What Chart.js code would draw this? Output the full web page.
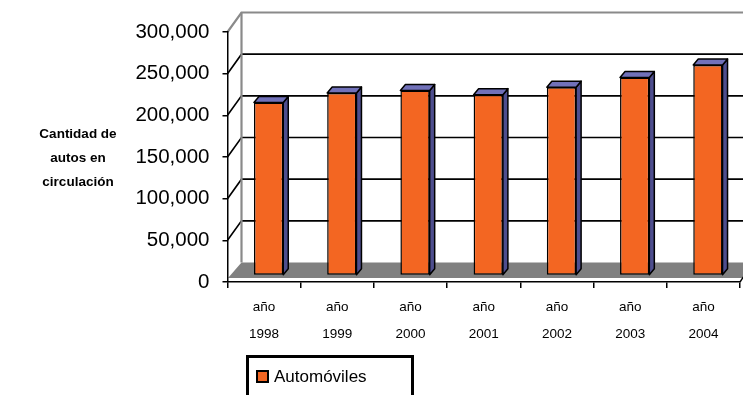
<!DOCTYPE html>
<html>
<head>
<meta charset="utf-8">
<script src="https://cdn.jsdelivr.net/npm/chart.js@4/dist/chart.umd.min.js"></script>
<style>
  html, body { margin: 0; padding: 0; background: #fff; }
  #wrap { width: 743px; height: 395px; position: relative; }
</style>
</head>
<body>
<div id="wrap"><canvas id="c" width="743" height="395"></canvas></div>
<script>
// Autos en circulación por año
const years = ['1998', '1999', '2000', '2001', '2002', '2003', '2004'];
const categories = years.map(y => ['año', y]);
const autos = [207500, 219000, 222000, 217000, 226000, 237500, 252500];
const seriesName = 'Automóviles';
const axisTitle = ['Cantidad de', 'autos en', 'circulación'];
const yMax = 300000;
const yStep = 50000;

const FONT = '"Liberation Sans", Arial, Helvetica, sans-serif';
const ORANGE = '#F36622';
const TOP_FACE = '#7171B9';
const SIDE_FACE = '#4E4E8E';

// depth of the walls, shift of the bar row into the box, depth of each bar
const WALL = { dx: 14, dy: -19.5 };
const ROW = { dx: 4.5, dy: -6.5 };
const BAR = { dx: 5, dy: -6 };

const box3d = {
  id: 'box3d',
  beforeDraw(chart) {
    const { ctx, chartArea: a, scales: { y } } = chart;
    const W = chart.width;
    const y0 = y.getPixelForValue(0);
    ctx.save();
    // floor
    ctx.fillStyle = '#808080';
    ctx.beginPath();
    ctx.moveTo(a.left + 0.5, y0 - 4);
    ctx.lineTo(a.left + WALL.dx, y0 + WALL.dy);
    ctx.lineTo(W + 30, y0 + WALL.dy);
    ctx.lineTo(W + 30, y0 - 4);
    ctx.closePath();
    ctx.fill();
    // gridlines on the side and back walls
    for (let v = yStep; v <= yMax; v += yStep) {
      const yf = y.getPixelForValue(v);
      const top = v === yMax;
      ctx.strokeStyle = top ? '#8a8a8a' : '#000';
      ctx.lineWidth = top ? 2.2 : 1.6;
      ctx.beginPath();
      ctx.moveTo(a.left, yf);
      ctx.lineTo(a.left + WALL.dx, yf + WALL.dy);
      ctx.lineTo(W + 5, yf + WALL.dy);
      ctx.stroke();
    }
    // back wall left edge
    ctx.strokeStyle = '#8a8a8a';
    ctx.lineWidth = 2.2;
    ctx.beginPath();
    ctx.moveTo(a.left + WALL.dx, y.getPixelForValue(yMax) + WALL.dy);
    ctx.lineTo(a.left + WALL.dx, y0 + WALL.dy);
    ctx.stroke();
    ctx.restore();
  },
  beforeDatasetsDraw(chart) {
    chart.ctx.save();
    chart.ctx.translate(ROW.dx, ROW.dy);
  },
  afterDatasetsDraw(chart) {
    const ctx = chart.ctx;
    ctx.restore();
    const meta = chart.getDatasetMeta(0);
    ctx.save();
    ctx.lineWidth = 1.5;
    ctx.lineJoin = 'round';
    ctx.strokeStyle = '#000';
    meta.data.forEach(el => {
      const { x, y, base, width } = el.getProps(['x', 'y', 'base', 'width'], true);
      const l = x - width / 2 + ROW.dx, r = x + width / 2 + ROW.dx;
      const t = y + ROW.dy, b = base + ROW.dy;
      // side face
      ctx.fillStyle = SIDE_FACE;
      ctx.beginPath();
      ctx.moveTo(r, t);
      ctx.lineTo(r + BAR.dx, t + BAR.dy);
      ctx.lineTo(r + BAR.dx, b + BAR.dy);
      ctx.lineTo(r, b);
      ctx.closePath();
      ctx.fill();
      ctx.stroke();
      // top face
      ctx.fillStyle = TOP_FACE;
      ctx.beginPath();
      ctx.moveTo(l, t);
      ctx.lineTo(l + BAR.dx, t + BAR.dy);
      ctx.lineTo(r + BAR.dx, t + BAR.dy);
      ctx.lineTo(r, t);
      ctx.closePath();
      ctx.fill();
      ctx.stroke();
    });
    ctx.restore();
  },
  afterDraw(chart) {
    const { ctx, chartArea: a, scales: { y } } = chart;
    const y0 = y.getPixelForValue(0);
    ctx.save();
    // right end of the category axis
    ctx.strokeStyle = '#000';
    ctx.lineWidth = 1.5;
    ctx.beginPath();
    ctx.moveTo(a.right, y0);
    ctx.lineTo(a.right + 4, y0 - 6);
    ctx.stroke();
    // value axis title
    ctx.fillStyle = '#000';
    ctx.font = 'bold 13.5px ' + FONT;
    ctx.textAlign = 'center';
    ctx.textBaseline = 'middle';
    axisTitle.forEach((line, i) => ctx.fillText(line, 78, 134 + i * 24));
    // legend
    ctx.lineWidth = 3;
    ctx.strokeRect(247.5, 356.5, 165, 60);
    ctx.fillStyle = ORANGE;
    ctx.fillRect(257, 371, 11, 11);
    ctx.lineWidth = 2;
    ctx.strokeRect(257, 371, 11, 11);
    ctx.fillStyle = '#000';
    ctx.font = '17px ' + FONT;
    ctx.textAlign = 'left';
    ctx.fillText(chart.data.datasets[0].label, 274, 377);
    ctx.restore();
  }
};

new Chart(document.getElementById('c'), {
  type: 'bar',
  data: {
    labels: categories,
    datasets: [{
      label: seriesName,
      data: autos,
      backgroundColor: ORANGE,
      borderColor: '#000',
      borderWidth: 1.5,
      borderSkipped: false,
      barPercentage: 0.8,
      categoryPercentage: 0.5
    }]
  },
  options: {
    responsive: false,
    animation: false,
    layout: { padding: { top: 32, right: 3, left: 0, bottom: 0 } },
    plugins: { legend: { display: false }, tooltip: { enabled: false } },
    scales: {
      x: {
        grid: { display: true, drawOnChartArea: false, drawTicks: true, tickLength: 6, color: '#000', lineWidth: 1.5, offset: true },
        border: { display: true, color: '#000', width: 1.5 },
        ticks: { color: '#000', font: { family: FONT, size: 13.5, lineHeight: 1.98 }, padding: 6, maxRotation: 0, autoSkip: false },
        afterFit(scale) { scale.height = 113; }
      },
      y: {
        min: 0,
        max: yMax,
        ticks: { stepSize: yStep, color: '#000', font: { family: FONT, size: 20.5 }, padding: 13 },
        grid: { display: true, drawOnChartArea: false, drawTicks: true, tickLength: 5, color: '#000', lineWidth: 1.5 },
        border: { display: true, color: '#000', width: 1.5 },
        afterFit(scale) { scale.width = 227.5; }
      }
    }
  },
  plugins: [box3d]
});
</script>
</body>
</html>
